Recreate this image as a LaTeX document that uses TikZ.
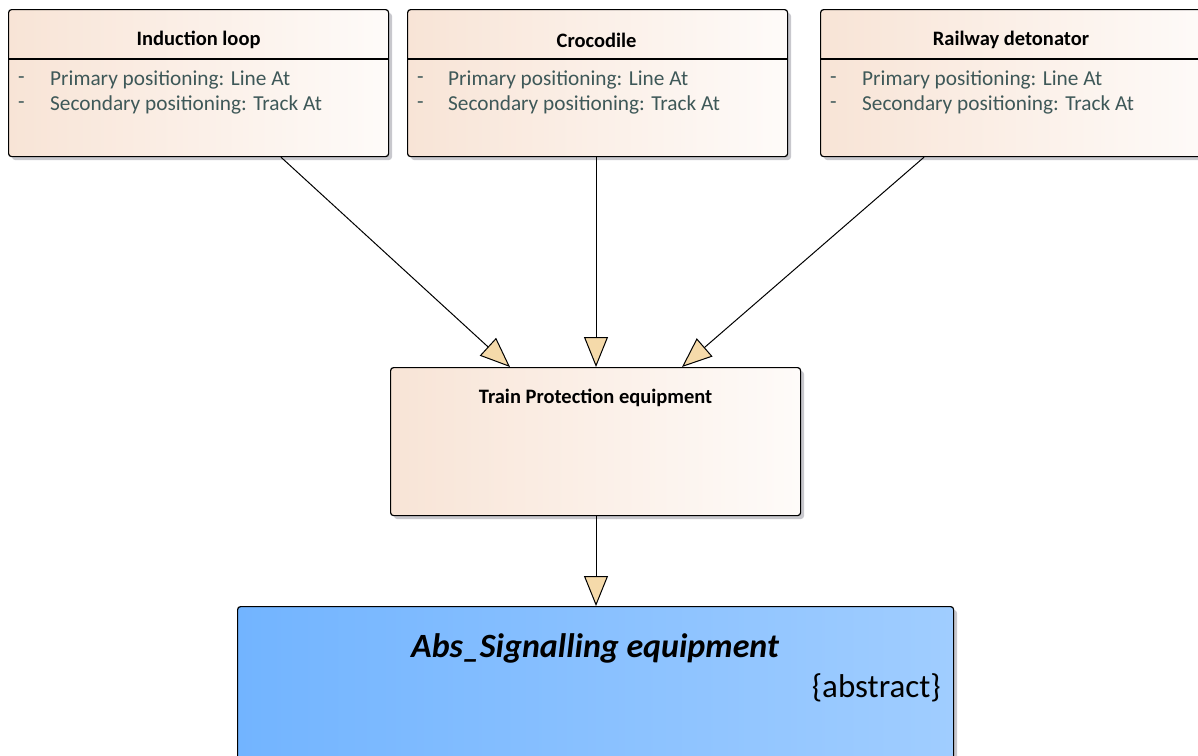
\documentclass[tikz,border=0pt]{standalone}
\usepackage{fontspec}
\setmainfont{Carlito}
\usetikzlibrary{arrows.meta,calc}
\definecolor{peachL}{RGB}{248,228,214}
\definecolor{peachR}{RGB}{254,251,249}
\definecolor{blueL}{RGB}{114,180,255}
\definecolor{blueR}{RGB}{160,205,255}
\definecolor{attr}{RGB}{62,88,88}
\definecolor{headfill}{RGB}{245,218,170}
\definecolor{shadowc}{RGB}{200,200,205}
\tikzset{
  x=1pt,y=-1pt,
  box/.style={draw=black,line width=1.2pt,rounded corners=3pt,anchor=north west,
    shading=axis,left color=peachL,right color=peachR,shading angle=90,inner sep=0pt},
  abox/.style={box,left color=blueL,right color=blueR},
  shadowbox/.style={fill=shadowc,rounded corners=3pt},
  ttl/.style={font=\bfseries\fontsize{20.5}{24}\selectfont,anchor=center},
  att/.style={font=\fontsize{21.3}{24}\selectfont,text=attr,anchor=west,inner sep=0pt},
  gen/.style={draw=black,line width=1pt,-{Triangle[length=30pt,width=24pt,fill=headfill,line width=1pt]}},
}
\begin{document}
\begin{tikzpicture}
\useasboundingbox (0,0) rectangle (1198,755);
% shadows
\fill[shadowbox] (12,13) rectangle (392,160);
\fill[shadowbox] (411,13) rectangle (791,160);
\fill[shadowbox] (824,13) rectangle (1204,160);
\fill[shadowbox] (394,371) rectangle (804,519);
\fill[shadowbox] (241,610) rectangle (957,760);
% boxes
\node[box,minimum width=380pt,minimum height=147pt] (il) at (8,9) {};
\node[box,minimum width=380pt,minimum height=147pt] (cr) at (407,9) {};
\node[box,minimum width=390pt,minimum height=147pt] (rd) at (820,9) {};
\node[box,minimum width=410pt,minimum height=148pt] (tp) at (390,367) {};
\node[abox,minimum width=716pt,minimum height=160pt] (ab) at (237,606) {};
% dividers
\foreach \b in {il,cr,rd}{
  \draw[line width=1.2pt] ($(\b.north west)+(0,50)$) -- ($(\b.north east)+(0,50)$);
}
% titles
\node[ttl] (ilt) at ($(il.north)+(0,31)$) {Induction loop};
\node[ttl] (crt) at ($(cr.north)+(-1,31)$) {Crocodile};
\node[ttl] at (1011,40) (rdt) {Railway detonator};
\node[ttl] (tpt) at ($(tp.north)+(0,31)$) {Train Protection equipment};
\node[font=\bfseries\itshape\fontsize{34}{38}\selectfont,anchor=center] (abt) at (595,648) {Abs\_Signalling equipment};
\node[font=\fontsize{33}{36}\selectfont,anchor=east,inner sep=0pt] (abs) at (941,688) {\{abstract\}};
% attributes
\foreach \b/\x in {il/18,cr/417,rd/830}{
  \node[att] at (\x,80) {-};
  \node[att] at (\x,105) {-};
}
\node[att] (il1) at (50,80) {Primary positioning: Line At};
\node[att] (il2) at (50,105) {Secondary positioning: Track At};
\node[att] (cr1) at (448,80) {Primary positioning: Line At};
\node[att] (cr2) at (448,105) {Secondary positioning: Track At};
\node[att] (rd1) at (862,80) {Primary positioning: Line At};
\node[att] (rd2) at (862,105) {Secondary positioning: Track At};
% connectors
\draw[gen] ($(il.south west)+(273,0)$) -- ($(tp.north west)+(120,0)$);
\draw[gen] ($(cr.south west)+(189,0)$) -- ($(tp.north west)+(206,0)$);
\draw[gen] ($(rd.south west)+(104,0)$) -- ($(tp.north west)+(292,0)$);
\draw[gen] ($(tp.south west)+(206,0)$) -- ($(ab.north west)+(359,0)$);
\end{tikzpicture}
\end{document}
